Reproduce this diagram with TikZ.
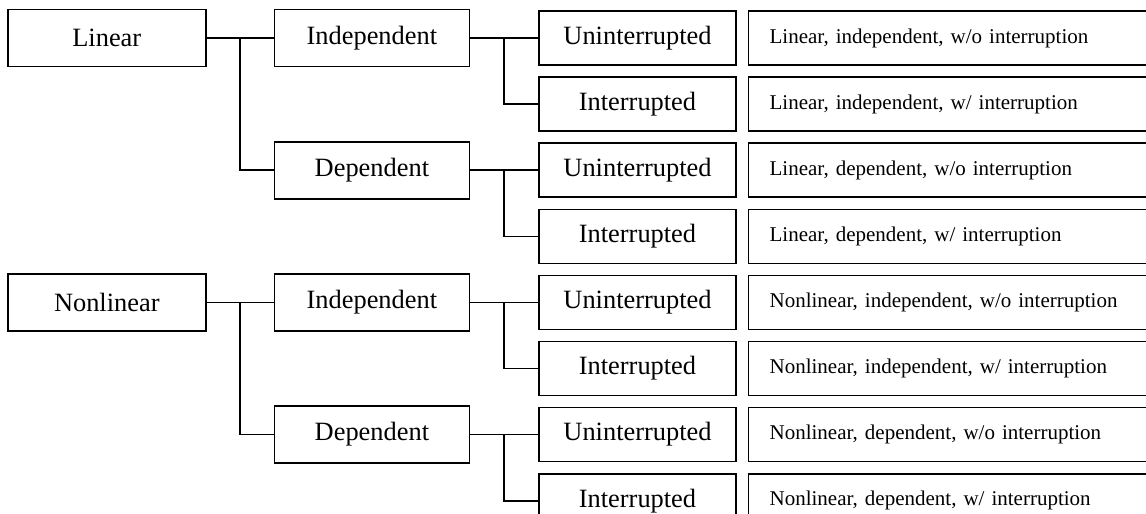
\documentclass[tikz,border=0pt]{standalone}
\usepackage{fontspec}
\setmainfont{Liberation Serif}
\usetikzlibrary{positioning,calc}
\tikzset{
  box-style/.style = {
    rectangle, draw, line width=0.8pt,
    inner sep=1pt,
    minimum height=#1
  },
  cat-style/.style = {
    box-style=28.5pt,
    minimum width=99pt,
    font=\fontsize{13.2}{15}\selectfont
  },
  sub-style/.style = {
    box-style=28.5pt,
    minimum width=97.5pt,
    font=\fontsize{13.2}{15}\selectfont
  },
  leaf-style/.style = {
    box-style=27pt,
    minimum width=98.5pt,
    font=\fontsize{13.2}{15}\selectfont
  },
  desc-style/.style = {
    box-style=27pt,
    text width=183.5pt, inner xsep=10.5pt, align=left,
    font=\fontsize{10.5}{12}\selectfont
  },
  link-style/.style = {draw, line width=0.8pt}
}

\begin{document}
\begin{tikzpicture}
    \clip (0,0) rectangle (573pt,-257pt);

    %%% third column
    \node[leaf-style] (u1) at (318.75pt,-19pt) {Uninterrupted};
    \node[leaf-style,below=5.25pt of u1] (i1) {Interrupted};
    \node[leaf-style,below=5.25pt of i1] (u2) {Uninterrupted};
    \node[leaf-style,below=5.25pt of u2] (i2) {Interrupted};
    \node[leaf-style,below=5.25pt of i2] (u3) {Uninterrupted};
    \node[leaf-style,below=5.25pt of u3] (i3) {Interrupted};
    \node[leaf-style,below=5.25pt of i3] (u4) {Uninterrupted};
    \node[leaf-style,below=5.25pt of u4] (i4) {Interrupted};

    %%% descriptions
    \node[desc-style,right=5.5pt of u1] (d1) {Linear, independent, w/o interruption};
    \node[desc-style,right=5.5pt of i1] (d2) {Linear, independent, w/ interruption};
    \node[desc-style,right=5.5pt of u2] (d3) {Linear, dependent, w/o interruption};
    \node[desc-style,right=5.5pt of i2] (d4) {Linear, dependent, w/ interruption};
    \node[desc-style,right=5.5pt of u3] (d5) {Nonlinear, independent, w/o interruption};
    \node[desc-style,right=5.5pt of i3] (d6) {Nonlinear, independent, w/ interruption};
    \node[desc-style,right=5.5pt of u4] (d7) {Nonlinear, dependent, w/o interruption};
    \node[desc-style,right=5.5pt of i4] (d8) {Nonlinear, dependent, w/ interruption};

    %%% second column
    \node[sub-style,left=34pt of u1] (ind1) {Independent};
    \node[sub-style,left=34pt of u2] (dep1) {Dependent};
    \node[sub-style,left=34pt of u3] (ind2) {Independent};
    \node[sub-style,left=34pt of u4] (dep2) {Dependent};

    %%% first column
    \node[cat-style,left=33.5pt of ind1] (lin) {Linear};
    \node[cat-style,left=33.5pt of ind2] (nonlin) {Nonlinear};

    %%% links
    % linear
    \path[link-style] (lin.east) -- (ind1.west);
    \path[link-style] ($(lin.east)!0.5!(ind1.west)$) |- (dep1.west);
    % nonlinear
    \path[link-style] (nonlin.east) -- (ind2.west);
    \path[link-style] ($(nonlin.east)!0.5!(ind2.west)$) |- (dep2.west);
    % independent / dependent to leaves
    \path[link-style] (ind1.east) -- (u1.west);
    \path[link-style] ($(ind1.east)!0.5!(u1.west)$) |- (i1.west);
    \path[link-style] (dep1.east) -- (u2.west);
    \path[link-style] ($(dep1.east)!0.5!(u2.west)$) |- (i2.west);
    \path[link-style] (ind2.east) -- (u3.west);
    \path[link-style] ($(ind2.east)!0.5!(u3.west)$) |- (i3.west);
    \path[link-style] (dep2.east) -- (u4.west);
    \path[link-style] ($(dep2.east)!0.5!(u4.west)$) |- (i4.west);
\end{tikzpicture}
\end{document}
